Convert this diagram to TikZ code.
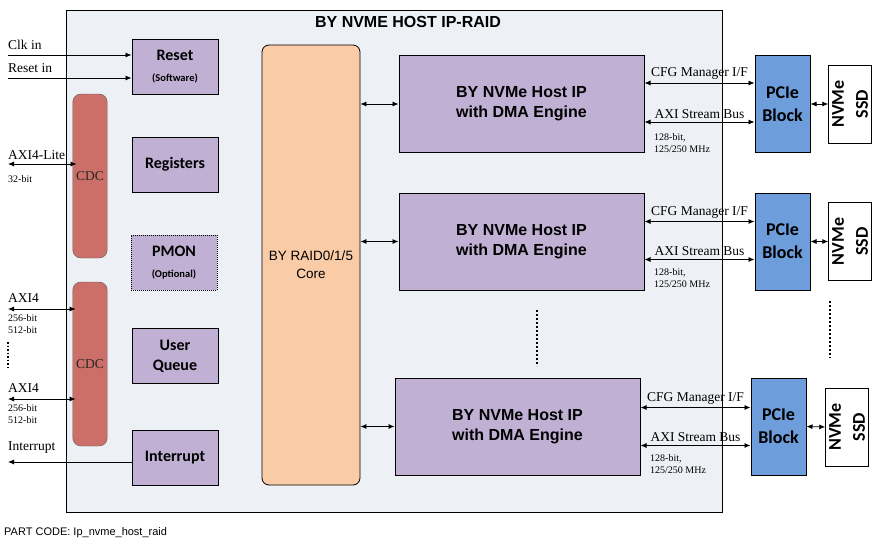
\documentclass[tikz,border=0pt]{standalone}
\usepackage{fontspec}
\setmainfont{Liberation Serif}
\newfontfamily\arialfont{Liberation Sans}
\newfontfamily\calfont{Carlito}
\usetikzlibrary{arrows.meta}
\definecolor{bgblue}{RGB}{237,240,245}
\definecolor{lilac}{RGB}{192,176,211}
\definecolor{cdcred}{RGB}{204,111,104}
\definecolor{peach}{RGB}{249,203,166}
\definecolor{pcieblue}{RGB}{109,157,219}

\begin{document}
\begin{tikzpicture}[x=1pt, y=-1pt, >={Latex[length=6pt,width=5pt]},
	blk/.style={draw, line width=1pt, fill=lilac, minimum width=86pt, minimum height=55pt, align=center, font=\calfont\bfseries\fontsize{16}{20}\selectfont},
	cdc/.style={draw=black!65, fill=cdcred, rounded corners=8pt, minimum width=30pt, minimum height=164pt, text=black!85, font=\fontsize{13.5}{15}\selectfont},
	host/.style={draw, line width=1pt, fill=lilac, minimum width=245pt, minimum height=97pt, align=center, font=\arialfont\bfseries\fontsize{16}{20}\selectfont},
	pcie/.style={draw, line width=1pt, fill=pcieblue, minimum width=55pt, minimum height=97pt, align=center, font=\calfont\bfseries\fontsize{18}{23}\selectfont},
	ssd/.style={draw, line width=1pt, fill=white, rotate=90, minimum width=78pt, minimum height=42pt, align=center, font=\calfont\bfseries\fontsize{18}{24}\selectfont},
	sig/.style={inner sep=0pt, font=\fontsize{13.5}{15}\selectfont},
	bus/.style={inner sep=0pt, align=left, font=\fontsize{10}{12}\selectfont},
	link/.style={<->, line width=0.8pt}]

	\useasboundingbox (0,0) rectangle (879,546);

	% outer block
	\node[draw, line width=1pt, fill=bgblue, minimum width=656pt, minimum height=502pt] (ip) at (394,261) {};
	\node[font=\arialfont\bfseries\fontsize{16}{18}\selectfont] (title) at (408,22) {BY NVME HOST IP-RAID};

	% left column
	\node[blk] (reset) at (175,66.5) {Reset\\[1pt]{\fontsize{10.5}{12}\selectfont (Software)}};
	\node[blk] (regs) at (175,164.5) {Registers};
	\node[blk, densely dotted] (pmon) at (174,262.5) {PMON\\[1pt]{\fontsize{10.5}{12}\selectfont (Optional)}};
	\node[blk] (uq) at (175,356) {User\\Queue};
	\node[blk] (intr) at (175,457.5) {Interrupt};
	\node[cdc] (cdc1) at (90,176) {CDC};
	\node[cdc] (cdc2) at (90,364) {CDC};

	\node[draw, line width=0.8pt, fill=peach, rounded corners=7pt, minimum width=98pt, minimum height=440pt, align=center, font=\arialfont\fontsize{13.5}{18}\selectfont] (raid) at (311,265) {BY RAID0/1/5\\Core};

	% host ports
	\node[host] (h1) at (521.5,104) {BY NVMe Host IP\\with DMA Engine};
	\node[host] (h2) at (521.5,241.5) {BY NVMe Host IP\\with DMA Engine};
	\node[host] (h3) at (517.5,426.5) {BY NVMe Host IP\\with DMA Engine};
	\node[pcie] (p1) at (782.5,104) {PCIe\\Block};
	\node[pcie] (p2) at (782.5,241.5) {PCIe\\Block};
	\node[pcie] (p3) at (778.5,426.5) {PCIe\\Block};
	\node[ssd] (s1) at (850,104) {NVMe\\SSD};
	\node[ssd] (s2) at (850,241.5) {NVMe\\SSD};
	\node[ssd] (s3) at (847,427) {NVMe\\SSD};

	\draw[link] (raid.east |- h1.west) -- (h1.west);
	\draw[link] (raid.east |- h2.west) -- (h2.west);
	\draw[link] (raid.east |- h3.west) -- (h3.west);

	\draw[link] ([yshift=21pt]h1.east) -- node[sig, above=3pt] {CFG Manager I/F} ([yshift=21pt]p1.west);
	\draw[link] ([yshift=-18pt]h1.east) -- node[sig, above=3pt] {AXI Stream Bus} ([yshift=-18pt]p1.west);
	\node[bus, anchor=north west] (bw1) at (654,133) {128-bit,\\125/250 MHz};
	\draw[link] ([yshift=20pt]h2.east) -- node[sig, above=3pt] {CFG Manager I/F} ([yshift=20pt]p2.west);
	\draw[link] ([yshift=-18pt]h2.east) -- node[sig, above=3pt] {AXI Stream Bus} ([yshift=-18pt]p2.west);
	\node[bus, anchor=north west] (bw2) at (654,268) {128-bit,\\125/250 MHz};
	\draw[link] ([yshift=19pt]h3.east) -- node[sig, above=3pt] {CFG Manager I/F} ([yshift=19pt]p3.west);
	\draw[link] ([yshift=-19pt]h3.east) -- node[sig, above=3pt] {AXI Stream Bus} ([yshift=-19pt]p3.west);
	\node[bus, anchor=north west] (bw3) at (650,454) {128-bit,\\125/250 MHz};

	\draw[link] (p1.east) -- (s1.north);
	\draw[link] (p2.east) -- (s2.north);
	\draw[link] (p3.east) -- (s3.north);

	\draw[dotted, line width=2pt] (537,310) -- (537,366);
	\draw[dotted, line width=2pt] (830,301) -- (830,358);

	% outside signals
	\node[sig, anchor=base west] (clk) at (8,49.5) {Clk in};
	\coordinate (clkin) at (8,55);
	\draw[->, line width=0.8pt] (clkin) -- (reset.west |- clkin);
	\node[sig, anchor=base west] (rst) at (8,72.5) {Reset in};
	\coordinate (rstin) at (8,78);
	\draw[->, line width=0.8pt] (rstin) -- (reset.west |- rstin);

	\node[sig, anchor=base west] (axil) at (8,159.5) {AXI4-Lite};
	\coordinate (axilin) at (8,164);
	\draw[link] (axilin) -- ([xshift=4pt]cdc1.west |- axilin);
	\node[bus, anchor=base west] (axilw) at (8,182) {32-bit};

	\node[sig, anchor=base west] (axia) at (8,302) {AXI4};
	\coordinate (axiain) at (8,309);
	\draw[link] (axiain) -- ([xshift=3pt]cdc2.west |- axiain);
	\node[bus, anchor=north west] (axiaw) at (8,314) {256-bit\\512-bit};
	\draw[dotted, line width=1.5pt] (8,342) -- (8,369);
	\node[sig, anchor=base west] (axib) at (8,392) {AXI4};
	\coordinate (axibin) at (8,399);
	\draw[link] (axibin) -- ([xshift=3pt]cdc2.west |- axibin);
	\node[bus, anchor=north west] (axibw) at (8,404) {256-bit\\512-bit};

	\node[sig, anchor=base west] (irq) at (8,450.5) {Interrupt};
	\coordinate (irqout) at (8,462);
	\draw[->, line width=0.8pt] (intr.west |- irqout) -- (irqout);

	\node[anchor=base west, inner sep=0pt, font=\arialfont\fontsize{11}{13}\selectfont] (code) at (4,535) {PART CODE: Ip\_nvme\_host\_raid};
\end{tikzpicture}
\end{document}
